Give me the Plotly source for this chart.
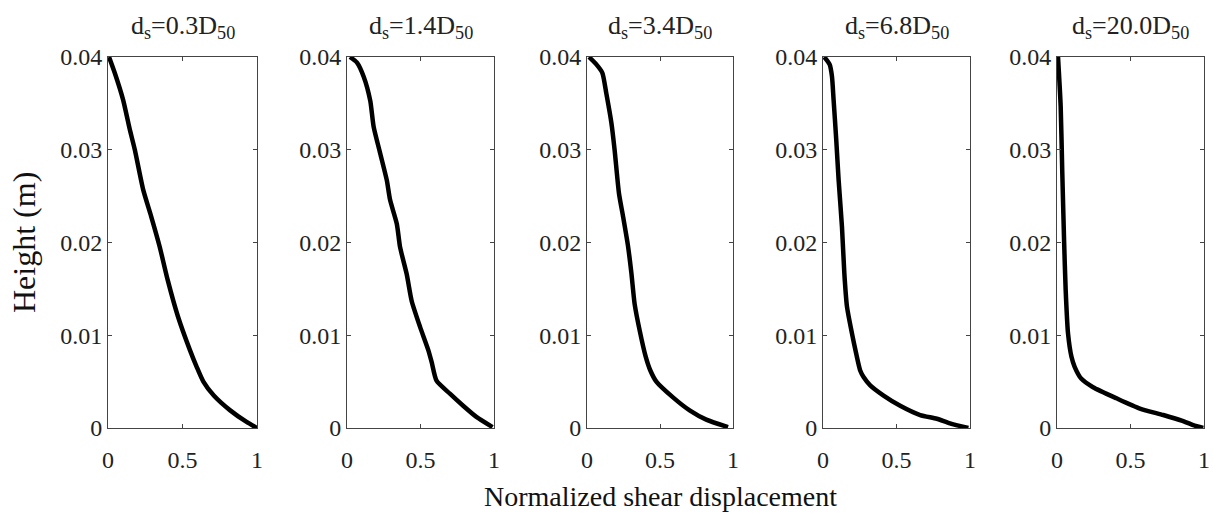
import plotly.graph_objects as go

W, H = 1213, 513

titles = ["d<sub>s</sub>=0.3D<sub>50</sub>", "d<sub>s</sub>=1.4D<sub>50</sub>", "d<sub>s</sub>=3.4D<sub>50</sub>",
          "d<sub>s</sub>=6.8D<sub>50</sub>", "d<sub>s</sub>=20.0D<sub>50</sub>"]

x1 = [0.007, 0.045, 0.101, 0.146, 0.18, 0.236, 0.29, 0.346, 0.40, 0.47, 0.55, 0.595, 0.64, 0.71, 0.82, 0.93, 1.0]
y1 = [0.04, 0.0383, 0.0354, 0.0322, 0.030, 0.0257, 0.0228, 0.0196, 0.016, 0.012, 0.0084, 0.0066, 0.005, 0.0035, 0.0019, 0.00065, 0.0]

x2 = [0.02, 0.068, 0.113, 0.158, 0.181, 0.226, 0.271, 0.293, 0.339, 0.361, 0.406, 0.44, 0.497, 0.553, 0.576, 0.609, 0.70, 0.79, 0.88, 0.99]
y2 = [0.04, 0.0394, 0.0379, 0.0353, 0.0325, 0.0296, 0.0267, 0.0246, 0.022, 0.0195, 0.0166, 0.0137, 0.0109, 0.0084, 0.0071, 0.0051, 0.0037, 0.0024, 0.0012, 0.0001]

x3 = [0.014, 0.064, 0.105, 0.132, 0.167, 0.189, 0.219, 0.247, 0.281, 0.304, 0.326, 0.361, 0.402, 0.434, 0.475, 0.589, 0.703, 0.817, 0.966]
y3 = [0.04, 0.0392, 0.0383, 0.0361, 0.0329, 0.030, 0.0253, 0.0228, 0.0196, 0.0167, 0.0134, 0.0105, 0.0077, 0.0062, 0.005, 0.0033, 0.0019, 0.0009, 0.0001]

x4 = [0.009, 0.045, 0.061, 0.072, 0.09, 0.106, 0.129, 0.145, 0.163, 0.197, 0.226, 0.253, 0.276, 0.321, 0.412, 0.525, 0.661, 0.774, 0.864, 0.989]
y4 = [0.04, 0.0392, 0.0379, 0.0354, 0.0311, 0.0268, 0.0217, 0.0167, 0.0131, 0.0102, 0.008, 0.0062, 0.0055, 0.0046, 0.0035, 0.0024, 0.0014, 0.001, 0.0005, 0.0]

x5 = [0.007, 0.025, 0.036, 0.048, 0.059, 0.075, 0.098, 0.12, 0.166, 0.245, 0.405, 0.564, 0.723, 0.848, 0.927, 0.995]
y5 = [0.04, 0.0347, 0.0275, 0.0203, 0.0149, 0.0102, 0.0077, 0.0066, 0.0053, 0.0044, 0.0032, 0.0021, 0.0014, 0.0008, 0.0003, 0.0]

xs = [x1, x2, x3, x4, x5]
ys = [y1, y2, y3, y4, y5]

x_ticks = [0, 0.5, 1]
x_ticklabels = ["0", "0.5", "1"]
y_ticks = [0, 0.01, 0.02, 0.03, 0.04]
y_ticklabels = ["0", "0.01", "0.02", "0.03", "0.04"]

FONT = "Liberation Serif, Times New Roman, serif"
lefts = [108, 347, 587, 823, 1057]
rights = [257, 494, 733, 970, 1204]
top_px, bot_px = 57, 428

fig = go.Figure()
layout = dict(
    template="none",
    width=W, height=H,
    margin=dict(l=0, r=0, t=0, b=0, pad=0),
    paper_bgcolor="white", plot_bgcolor="white",
    showlegend=False,
    font=dict(family=FONT, size=24, color="#222"),
)
annotations = []
for i in range(5):
    xa = "x" if i == 0 else f"x{i+1}"
    ya = "y" if i == 0 else f"y{i+1}"
    fig.add_trace(go.Scatter(x=xs[i], y=ys[i], mode="lines", line=dict(color="black", width=4.5, shape="spline", smoothing=0.6),
                             xaxis=xa, yaxis=ya))
    axcommon = dict(showgrid=False, zeroline=False, showline=True, linecolor="#444", linewidth=1,
                    mirror="allticks", ticks="inside", ticklen=4, tickcolor="#444", tickwidth=1,
                    automargin=False,
                    tickfont=dict(family=FONT, size=24, color="#222"))
    layout["xaxis" if i == 0 else f"xaxis{i+1}"] = dict(
        domain=[lefts[i] / W, rights[i] / W], range=[0, 1], tickvals=x_ticks, ticktext=x_ticklabels,
        anchor=ya, ticklabelstandoff=10, **axcommon)
    layout["yaxis" if i == 0 else f"yaxis{i+1}"] = dict(
        domain=[1 - bot_px / H, 1 - top_px / H], range=[0, 0.04], tickvals=y_ticks, ticktext=y_ticklabels,
        anchor=xa, **axcommon)
    annotations.append(dict(text=titles[i], x=(lefts[i] + rights[i]) / 2 / W, y=1 - 27 / H,
                            xref="paper", yref="paper", showarrow=False,
                            font=dict(family=FONT, size=26, color="#222"), xanchor="center", yanchor="middle"))

annotations.append(dict(text="Height (m)", x=24 / W, y=1 - 243 / H, xref="paper", yref="paper",
                        showarrow=False, textangle=-90, font=dict(family=FONT, size=32, color="#111"),
                        xanchor="center", yanchor="middle"))
annotations.append(dict(text="Normalized shear displacement", x=660 / W, y=1 - 496 / H, xref="paper", yref="paper",
                        showarrow=False, font=dict(family=FONT, size=28, color="#111"),
                        xanchor="center", yanchor="middle"))
layout["annotations"] = annotations
fig.update_layout(**layout)
fig.write_html("out.html")
